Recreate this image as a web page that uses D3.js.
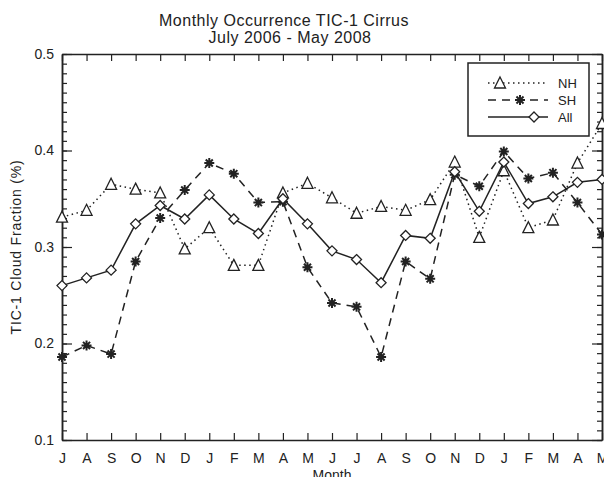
<!DOCTYPE html>
<html>
<head>
<meta charset="utf-8">
<script src="https://cdn.jsdelivr.net/npm/d3@7"></script>
<style>
  body { margin: 0; background: #fff; }
  svg { display: block; }
  text { font-family: "Liberation Sans", Arial, sans-serif; fill: #222; }
</style>
</head>
<body>
<div id="chart"></div>
<script>
// Months from July 2006 to May 2008
var months = ["J","A","S","O","N","D","J","F","M","A","M","J","J","A","S","O","N","D","J","F","M","A","M"];

// Cloud fraction
var nh  = [0.331,0.338,0.365,0.360,0.356,0.298,0.320,0.281,0.281,0.356,0.366,0.351,0.335,0.342,0.338,0.349,0.388,0.310,0.379,0.320,0.328,0.387,0.428];
var sh  = [0.186,0.198,0.189,0.285,0.330,0.359,0.387,0.376,0.346,0.347,0.279,0.242,0.238,0.186,0.285,0.267,0.375,0.363,0.399,0.371,0.377,0.346,0.313];
var all = [0.260,0.268,0.276,0.324,0.343,0.329,0.354,0.329,0.314,0.350,0.324,0.296,0.287,0.263,0.312,0.309,0.378,0.337,0.388,0.345,0.352,0.367,0.370];

var yTicks = [0.1, 0.2, 0.3, 0.4, 0.5];

var W = 604, H = 477;
var margin = {top: 54, right: 2, bottom: 37, left: 62};

var svg = d3.select("#chart").append("svg")
    .attr("width", W)
    .attr("height", H);

var x = d3.scaleLinear()
    .domain([0, months.length - 1])
    .range([margin.left, W - margin.right]);

var y = d3.scaleLinear()
    .domain([0.1, 0.5])
    .range([H - margin.bottom, margin.top]);

var ink = "#222";

// Title
svg.append("text")
    .attr("x", 284).attr("y", 26)
    .attr("text-anchor", "middle")
    .style("font-size", "16px").style("letter-spacing", "0.5px")
    .text("Monthly Occurrence TIC-1 Cirrus");
svg.append("text")
    .attr("x", 290).attr("y", 43)
    .attr("text-anchor", "middle")
    .style("font-size", "16px").style("letter-spacing", "0.5px")
    .text("July 2006 - May 2008");

// Axes: ticks on all four sides, pointing inward
var idx = d3.range(months.length);
var minor = d3.range(0.1, 0.5001, 0.01).map(function(d) { return +d.toFixed(2); });

var axBottom = svg.append("g")
    .attr("transform", "translate(0," + y(0.1) + ")")
    .call(d3.axisBottom(x).tickValues(idx).tickSizeInner(-7).tickSizeOuter(0)
      .tickPadding(13).tickFormat(function(i) { return months[i]; }));

var axTop = svg.append("g")
    .attr("transform", "translate(0," + y(0.5) + ")")
    .call(d3.axisTop(x).tickValues(idx).tickSizeInner(-7).tickSizeOuter(0).tickFormat(""));

var axLeftMinor = svg.append("g")
    .attr("transform", "translate(" + x(0) + ",0)")
    .call(d3.axisLeft(y).tickValues(minor).tickSizeInner(-5).tickSizeOuter(0).tickFormat(""));

var axLeft = svg.append("g")
    .attr("transform", "translate(" + x(0) + ",0)")
    .call(d3.axisLeft(y).tickValues(yTicks).tickSizeInner(-10).tickSizeOuter(0)
      .tickPadding(8).tickFormat(d3.format(".1f")));

var axRightMinor = svg.append("g")
    .attr("transform", "translate(" + x(months.length - 1) + ",0)")
    .call(d3.axisRight(y).tickValues(minor).tickSizeInner(-5).tickSizeOuter(0).tickFormat(""));

var axRight = svg.append("g")
    .attr("transform", "translate(" + x(months.length - 1) + ",0)")
    .call(d3.axisRight(y).tickValues(yTicks).tickSizeInner(-10).tickSizeOuter(0).tickFormat(""));

[axBottom, axTop, axLeftMinor, axLeft, axRightMinor, axRight].forEach(function(g) {
  g.select(".domain").attr("stroke", ink).attr("stroke-width", 1.5);
  g.selectAll(".tick line").attr("stroke", ink).attr("stroke-width", 1.2);
  g.selectAll("text").style("font-size", "14px").attr("fill", ink)
    .style("font-family", "'Liberation Sans', Arial, sans-serif");
});

// Axis titles
svg.append("text")
    .attr("x", x(11)).attr("y", 480)
    .attr("text-anchor", "middle")
    .style("font-size", "14px")
    .text("Month");
svg.append("text")
    .attr("transform", "translate(21," + y(0.3) + ") rotate(-90)")
    .attr("text-anchor", "middle")
    .style("font-size", "14px").style("letter-spacing", "0.8px")
    .text("TIC-1 Cloud Fraction (%)");

// Series
var series = [
  {name: "NH",  values: nh,  dash: "1.5,3.5", symbol: "triangle"},
  {name: "SH",  values: sh,  dash: "8,6",     symbol: "star"},
  {name: "All", values: all, dash: null,      symbol: "diamond"}
];

var line = d3.line()
    .x(function(d, i) { return x(i); })
    .y(function(d) { return y(d); });

function marker(g, type, cx, cy) {
  if (type == "triangle") {
    g.append("path")
      .attr("d", "M" + cx + "," + (cy - 6) + "L" + (cx + 5.5) + "," + (cy + 5) + "L" + (cx - 5.5) + "," + (cy + 5) + "Z")
      .attr("fill", "#fff").attr("stroke", ink).attr("stroke-width", 1.3);
  } else if (type == "diamond") {
    g.append("path")
      .attr("d", "M" + cx + "," + (cy - 5) + "L" + (cx + 5) + "," + cy + "L" + cx + "," + (cy + 5) + "L" + (cx - 5) + "," + cy + "Z")
      .attr("fill", "#fff").attr("stroke", ink).attr("stroke-width", 1.3);
  } else {
    var r = 5, p = "";
    [0, 45, 90, 135].forEach(function(a) {
      var dx = r * Math.cos(a * Math.PI / 180), dy = r * Math.sin(a * Math.PI / 180);
      p += "M" + (cx - dx) + "," + (cy - dy) + "L" + (cx + dx) + "," + (cy + dy);
    });
    g.append("path").attr("d", p).attr("stroke", ink).attr("stroke-width", 2).attr("fill", "none");
  }
}

series.forEach(function(s) {
  svg.append("path")
      .datum(s.values)
      .attr("d", line)
      .attr("fill", "none")
      .attr("stroke", ink)
      .attr("stroke-width", 1.5)
      .attr("stroke-dasharray", s.dash);
  var g = svg.append("g");
  s.values.forEach(function(v, i) { marker(g, s.symbol, x(i), y(v)); });
});

// Legend
var lg = svg.append("g");
lg.append("rect")
    .attr("x", 468).attr("y", 63).attr("width", 121).attr("height", 73)
    .attr("fill", "#fff").attr("stroke", ink).attr("stroke-width", 1.5);
var legendMarkX = [500, 520, 534];
series.forEach(function(s, i) {
  var ly = 83 + i * 17;
  lg.append("line")
      .attr("x1", 488).attr("x2", 548).attr("y1", ly).attr("y2", ly)
      .attr("stroke", ink).attr("stroke-width", 1.5)
      .attr("stroke-dasharray", s.dash);
  marker(lg, s.symbol, legendMarkX[i], ly);
  lg.append("text")
      .attr("x", 558).attr("y", ly + 5)
      .style("font-size", "13px")
      .text(s.name);
});
</script>
</body>
</html>
